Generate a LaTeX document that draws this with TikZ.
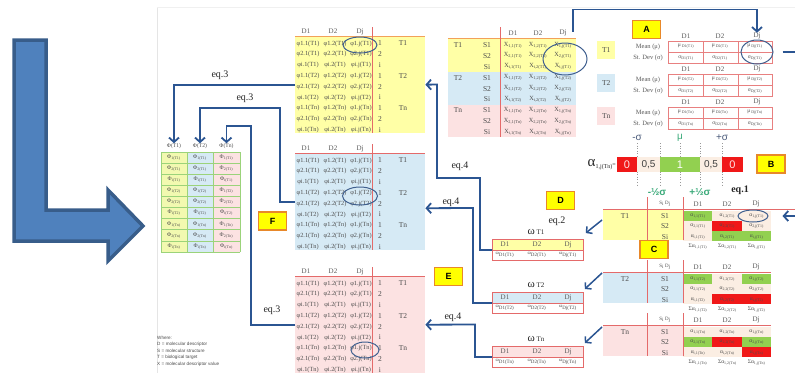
\documentclass[tikz,border=0pt]{standalone}
\usepackage{fontspec}
\setmainfont{Liberation Serif}
\newfontfamily\sansf{Liberation Sans}
\usetikzlibrary{arrows.meta,shapes.geometric}
\definecolor{arrblue}{HTML}{2B5592}
\definecolor{circblue}{HTML}{3F5F8E}
\definecolor{lyellow}{HTML}{FFFFA6}
\definecolor{lblue}{HTML}{D6EAF5}
\definecolor{lpink}{HTML}{FCE2E2}
\definecolor{redline}{HTML}{E46A6A}
\definecolor{orangeline}{HTML}{F2A15A}
\definecolor{boxyellow}{HTML}{FFFF00}
\definecolor{boxorange}{HTML}{E8882A}
\definecolor{cgreen}{HTML}{92D050}
\definecolor{cred}{HTML}{F01818}
\definecolor{cbeige}{HTML}{FBEEE3}
\definecolor{Lfill}{HTML}{4F81BD}
\definecolor{Ledge}{HTML}{385D8A}
\definecolor{sgreen}{HTML}{3BAA7A}
\definecolor{fgreen}{HTML}{9BD37A}
\definecolor{fyellow}{HTML}{F2F9B0}
\definecolor{slate}{HTML}{4A5A7A}
\tikzset{
  conn/.style={draw=arrblue, line width=1.8pt},
  arr/.style={conn, -{Straight Barb[length=4.5pt,width=10pt]}},
  darr/.style={draw=arrblue, line width=1.5pt, -{Straight Barb[length=4pt,width=9pt]}},
  letterbox/.style={draw=boxorange, fill=boxyellow, line width=1.2pt, minimum width=28pt, minimum height=18pt, inner sep=0pt, font=\sansf\bfseries\fontsize{9}{9}\selectfont},
  hdr/.style={font=\fontsize{7}{7}\selectfont, text=black!65, inner sep=0pt},
  celltxt/.style={font=\fontsize{6.3}{6.3}\selectfont, text=black!70, inner sep=0pt},
  tinytxt/.style={font=\fontsize{5}{5}\selectfont, text=black!70, inner sep=0pt},
  ftxt/.style={font=\fontsize{5.6}{5.6}\selectfont, text=black!70, inner sep=0pt},
  lab/.style={font=\fontsize{7.5}{8}\selectfont, text=black!70, inner sep=0pt},
  eqlab/.style={font=\fontsize{10}{10}\selectfont, text=black!85, inner sep=0pt},
  tabfill/.style={inner sep=0pt, anchor=north west},
  ring/.style={ellipse, draw=circblue, line width=1pt, inner sep=0pt},
}
\newcommand\phitable[4]{%
  \node[tabfill, fill=#3, minimum width=130pt, minimum height=97pt] (#1) at (295,#2) {};
  \begin{scope}[shift={(0,#2)}]
    \draw[#4, line width=0.8pt] (295,0) -- (425,0);
    \draw[redline, line width=0.8pt] (372,-9) -- (372,97);
    \node[hdr] (#1h1) at (306,-4.5) {D1};
    \node[hdr] (#1h2) at (333,-4.5) {D2};
    \node[hdr] (#1h3) at (360,-4.5) {Dj};
    \foreach \si/\ti [count=\ri from 0] in {1/T1,2/T1,i/T1,1/T2,2/T2,i/T2,1/Tn,2/Tn,i/Tn}{
      \node[celltxt] (#1a\ri) at (308,7.5+10.8*\ri) {φ\si.1(\ti)};
      \node[celltxt] (#1b\ri) at (335,7.5+10.8*\ri) {φ\si.2(\ti)};
      \node[celltxt] (#1c\ri) at (361,7.5+10.8*\ri) {φ\si.j(\ti)};
      \node[lab] (#1n\ri) at (380,7.5+10.8*\ri) {\si};
    }
    \node[lab] (#1t1) at (403,7.5) {T1};
    \node[lab] (#1t2) at (403,39.9) {T2};
    \node[lab] (#1t3) at (403,72.3) {Tn};
  \end{scope}}
\newcommand\atable[6]{%
  \begin{scope}[shift={(0,#3)}]
    \node[tabfill, fill=#4, minimum width=80pt, minimum height=31pt] (#1) at (603,0) {};
    \foreach \cc [count=\nn from 0] in {#5}{
      \pgfmathtruncatemacro\rowi{floor(\nn/3)}
      \pgfmathtruncatemacro\coli{mod(\nn,3)}
      \fill[\cc] (683+29.3*\coli,1.5+10.3*\rowi) rectangle ++(29.3,10.3);
    }
    \draw[redline, line width=0.8pt] (603,0) -- (#6,0);
    \draw[redline, line width=0.8pt] (647,-12) -- (647,31);
    \draw[redline, line width=0.8pt] (683,-12) -- (683,31);
    \node[tinytxt] (#1h0) at (665,-5) {S\textsubscript{i} D\textsubscript{j}};
    \node[hdr] (#1h1) at (698,-5) {D1};
    \node[hdr] (#1h2) at (727,-5) {D2};
    \node[hdr] (#1h3) at (756,-5) {Dj};
    \node[lab] (#1t) at (625,7) {#2};
    \foreach \si [count=\ri from 0] in {1,2,i}{
      \node[lab] (#1s\ri) at (665,7+10.3*\ri) {S\si};
      \foreach \ci [count=\cj from 0] in {1,2,j}{
        \node[ftxt] (#1c\ri\cj) at (698+29.3*\cj,7+10.3*\ri) {α\textsubscript{\si,\ci(#2)}};
      }
    }
    \foreach \ci [count=\cj from 0] in {1,2,j}{
      \node[ftxt] (#1sum\cj) at (698+29.3*\cj,38) {Σα\textsubscript{1,\ci(#2)}};
    }
  \end{scope}}
\newcommand\wbox[4]{%
  \fill[#4] (492,#3) rectangle (583,#3+11);
  \node[draw=redline, line width=0.8pt, minimum width=91pt, minimum height=21pt, anchor=north west, inner sep=0pt] (#1) at (492,#3) {};
  \draw[redline, line width=0.5pt] (492,#3+11) -- (583,#3+11);
  \node[hdr] (#1h1) at (505,#3+5.5) {D1};
  \node[hdr] (#1h2) at (537,#3+5.5) {D2};
  \node[hdr] (#1h3) at (568,#3+5.5) {Dj};
  \node[tinytxt] (#1v1) at (505,#3+16) {ω\textsubscript{D1(#2)}};
  \node[tinytxt] (#1v2) at (537,#3+16) {ω\textsubscript{D2(#2)}};
  \node[tinytxt] (#1v3) at (568,#3+16) {ω\textsubscript{Dj(#2)}};
  \node[inner sep=0pt, text=black!85] (#1l) at (536,#3-7) {{\fontsize{11}{11}\selectfont ω}\,{\fontsize{7}{7}\selectfont #2}};
}
\begin{document}
\begin{tikzpicture}[x=1pt,y=-1pt]
\useasboundingbox (0,0) rectangle (795,373);
\fill[white] (0,0) rectangle (795,373);
\draw[black!10, line width=0.6pt] (157,8) -- (157,373);
\draw[black!6, line width=0.6pt] (157,7) -- (795,7);
% big L arrow
\draw[fill=Lfill, draw=Ledge, line width=3.5pt, line join=miter] (14,40) -- (46,40) -- (46,210) -- (108,210) -- (108,190) -- (143,226) -- (108,261) -- (108,241) -- (14,241) -- cycle;

% phi tables
\phitable{tabY}{36}{lyellow}{orangeline}
\phitable{tabB}{153}{lblue}{redline}
\phitable{tabP}{276}{lpink}{redline}
\node[ring, minimum width=34pt, minimum height=16pt] (circY) at (360,45) {};
\node[ring, minimum width=35pt, minimum height=18pt] (circB) at (360,196) {};
\node[ring, minimum width=28pt, minimum height=16pt] (circP) at (365,350) {};

% X table
\fill[lyellow] (448,38) rectangle (576,72);
\fill[lblue] (448,72) rectangle (576,105);
\fill[lpink] (448,105) rectangle (576,137);
\draw[orangeline, line width=0.8pt] (448,38) -- (576,38);
\draw[redline, line width=0.8pt] (500,27) -- (500,137);
\node[hdr] (Xh1) at (513,33) {D1};
\node[hdr] (Xh2) at (538,33) {D2};
\node[hdr] (Xh3) at (563,33) {Dj};
\foreach \si/\ti [count=\ri from 0] in {1/T1,2/T1,i/T1,1/T2,2/T2,i/T2,1/Tn,2/Tn,i/Tn}{
  \node[lab] (Xs\ri) at (487,45+10.9*\ri) {S\si};
  \node[celltxt] (Xa\ri) at (513,45+10.9*\ri) {X\textsubscript{\si,1(\ti)}};
  \node[celltxt] (Xb\ri) at (538,45+10.9*\ri) {X\textsubscript{\si,2(\ti)}};
  \node[celltxt] (Xc\ri) at (563,45+10.9*\ri) {X\textsubscript{\si,j(\ti)}};
}
\node[lab] (Xt1) at (458,45) {T1};
\node[lab] (Xt2) at (458,77.7) {T2};
\node[lab] (Xt3) at (458,110.4) {Tn};
\node[ring, minimum width=44pt, minimum height=32pt] (circX) at (565,59) {};

% table A
\foreach \gi/\ti/\fc in {0/T1/lyellow,1/T2/lblue,2/Tn/lpink}{
  \pgfmathsetmacro\g{41+33*\gi}
  \node[fill=\fc, minimum width=18pt, minimum height=18pt, inner sep=0pt, anchor=north west, font=\fontsize{7.5}{8}\selectfont, text=black!70] (AT\gi) at (597,\g) {\ti};
  \node[font=\fontsize{6.5}{7}\selectfont, text=black!65, inner sep=0pt] (Am\gi) at (648,\g+6) {Mean (μ)};
  \node[font=\fontsize{6.5}{7}\selectfont, text=black!65, inner sep=0pt] (As\gi) at (648,\g+16.5) {St. Dev (σ)};
  \node[hdr] (A\gi-h1) at (686,\g-5) {D1};
  \node[hdr] (A\gi-h2) at (720,\g-5) {D2};
  \node[hdr] (A\gi-h3) at (757,\g-5) {Dj};
  \draw[redline!85, line width=0.6pt] (668,\g) rectangle (772,\g+22);
  \draw[redline!85, line width=0.6pt] (703,\g) -- (703,\g+22) (738,\g) -- (738,\g+22) (668,\g+11) -- (772,\g+11);
  \node[ftxt] (A\gi-m1) at (686,\g+5.5) {μ\,\textsubscript{D1(\ti)}};
  \node[ftxt] (A\gi-m2) at (720,\g+5.5) {μ\,\textsubscript{D2(\ti)}};
  \node[ftxt] (A\gi-m3) at (755,\g+5.5) {μ\,\textsubscript{Dj(\ti)}};
  \node[ftxt] (A\gi-s1) at (686,\g+16.5) {σ\textsubscript{D1(\ti)}};
  \node[ftxt] (A\gi-s2) at (720,\g+16.5) {σ\textsubscript{D2(\ti)}};
  \node[ftxt] (A\gi-s3) at (755,\g+16.5) {σ\textsubscript{Dj(\ti)}};
}
\node[ring, minimum width=32pt, minimum height=24pt] (circA) at (757,52) {};
\coordinate (rout) at (796,52);
\draw[conn] ([xshift=9pt]circA.east) -- (rout);
\draw[arr] ([shift={(8,-11)}]circX.north) -- ++(0,-22) -| (A0-h3.north);

% sigma scale and alpha strip
\foreach \xx in {637,660,680,700,722}{
  \draw[black!40, dotted, line width=0.6pt] (\xx,143) -- (\xx,186);
}
\node[font=\sansf\fontsize{10}{10}\selectfont, text=slate, inner sep=0pt] (sgm) at (637,138) {-σ};
\node[font=\sansf\fontsize{10}{10}\selectfont, text=sgreen, inner sep=0pt] (mu) at (680,138) {μ};
\node[font=\sansf\fontsize{10}{10}\selectfont, text=slate, inner sep=0pt] (sgp) at (722,138) {+σ};
\node[fill=cred, minimum width=20pt, minimum height=15pt, inner sep=0pt, text=red!10, font=\sansf\fontsize{11}{11}\selectfont] (s0a) at (627,164.5) {0};
\node[fill=cbeige, minimum width=23pt, minimum height=15pt, inner sep=0pt, text=black!75, font=\sansf\fontsize{10}{10}\selectfont] (s05a) at (648.5,164.5) {0,5};
\node[fill=cgreen, minimum width=40pt, minimum height=15pt, inner sep=0pt, text=white, font=\sansf\fontsize{11}{11}\selectfont] (s1) at (680,164.5) {1};
\node[fill=cbeige, minimum width=22pt, minimum height=15pt, inner sep=0pt, text=black!75, font=\sansf\fontsize{10}{10}\selectfont] (s05b) at (711,164.5) {0,5};
\node[fill=cred, minimum width=21pt, minimum height=15pt, inner sep=0pt, text=red!10, font=\sansf\fontsize{11}{11}\selectfont] (s0b) at (732.5,164.5) {0};
\node[anchor=east, inner sep=0pt, text=black!85] (alab) at (616,165) {{\fontsize{15}{15}\selectfont α}{\fontsize{6}{6}\selectfont\raisebox{-2pt}{1,j(Tn)}=}};
\node[font=\sansf\bfseries\fontsize{10}{10}\selectfont, text=sgreen, inner sep=0pt] (hsm) at (657,192) {-½σ};
\node[font=\sansf\bfseries\fontsize{10}{10}\selectfont, text=sgreen, inner sep=0pt] (hsp) at (700,192) {+½σ};
\node[eqlab, font=\bfseries\fontsize{10}{10}\selectfont] (e1) at (740,190) {eq.1};

% alpha tables
\atable{cT1}{T1}{209}{lyellow}{cgreen,cbeige,cbeige,cbeige,cred,cbeige,cbeige,cgreen,cgreen}{795}
\atable{cT2}{T2}{272}{lblue}{cgreen,cbeige,cgreen,cbeige,cbeige,cbeige,cbeige,cred,cred}{771}
\atable{cTn}{Tn}{325}{lpink}{cbeige,cbeige,cbeige,cgreen,cred,cgreen,cbeige,cbeige,cred}{771}
\node[ring, minimum width=30pt, minimum height=12pt] (circC) at (753,216) {};
\coordinate (rin) at (796,216);
\draw[arr] (rin) -- ([xshift=14pt]circC.east);

% omega boxes
\wbox{wT1}{T1}{239}{lyellow}
\wbox{wT2}{T2}{292}{lblue}
\wbox{wTn}{Tn}{346}{lpink}
\draw[darr] ([shift={(-1,11)}]cT1.north west) -- ([shift={(2,-6)}]wT1.north east);
\draw[darr] ([shift={(-1,1)}]cT2.north west) -- ([shift={(1,-3)}]wT2.north east);
\draw[darr] ([shift={(-1,2)}]cTn.north west) -- ([shift={(1,-3)}]wTn.north east);

% F table
\node[ftxt] (Fh1) at (174,146) {Φ(T1)};
\node[ftxt] (Fh2) at (200,146) {Φ(T2)};
\node[ftxt] (Fh3) at (226.5,146) {Φ(Tn)};
\fill[fyellow] (161,152) rectangle (187,252);
\fill[lblue] (187,152) rectangle (213,252);
\fill[lpink] (213,152) rectangle (240,252);
\foreach \yy in {0,...,9}{\draw[fgreen, line width=0.6pt] (161,152+11.11*\yy) -- (240,152+11.11*\yy);}
\foreach \xx in {161,187,213,240}{\draw[fgreen, line width=0.6pt] (\xx,152) -- (\xx,252);}
\foreach \si/\ti [count=\ri from 0] in {1/T1,2/T1,i/T1,1/T2,2/T2,i/T2,1/Tn,2/Tn,i/Tn}{
  \foreach \cx [count=\cj] in {174,200,226.5}{
    \node[ftxt] (F\cj-\ri) at (\cx,157.5+11.11*\ri) {Φ\textsubscript{\si(\ti)}};
  }
}

% connectors
\draw[arr] (tabY.west) -| (Fh1.north);
\draw[arr] (tabB.west) -| (280,108) -| (Fh2.north);
\draw[arr] (tabP.west) -| (251,126) -| (Fh3.north);
\draw[arr] (wT1.west) -| (480,178) -| (437,84.5) -- (tabY.east);
\draw[arr] (wT2.west) -| (473,208) -- ([yshift=-6.5pt]tabB.east);
\draw[arr] (wTn.west) -| (475,324.5) -- (tabP.east);

% equation labels
\node[eqlab] (e3a) at (220,75) {eq.3};
\node[eqlab] (e3b) at (245,98) {eq.3};
\node[eqlab] (e3c) at (272,310) {eq.3};
\node[eqlab] (e4a) at (460,166) {eq.4};
\node[eqlab] (e4b) at (451,202) {eq.4};
\node[eqlab] (e4c) at (453,317) {eq.4};
\node[eqlab] (e2) at (557,221) {eq.2};

% legend
\node[anchor=north west, align=left, inner sep=0pt, text=black!70, font=\sansf\fontsize{4.6}{6.4}\selectfont] (legend) at (157,336) {Where:\\D = molecular descriptor\\S = molecular structure\\T = biological target\\X = molecular descriptor value};

% letter boxes
\node[letterbox] (boxA) at (646.5,29.5) {A};
\node[letterbox] (boxB) at (771,164) {B};
\node[letterbox] (boxC) at (654,249.5) {C};
\node[letterbox] (boxD) at (560.5,200.5) {D};
\node[letterbox] (boxE) at (448.5,276.5) {E};
\node[letterbox] (boxF) at (272.5,221) {F};
\end{tikzpicture}
\end{document}
